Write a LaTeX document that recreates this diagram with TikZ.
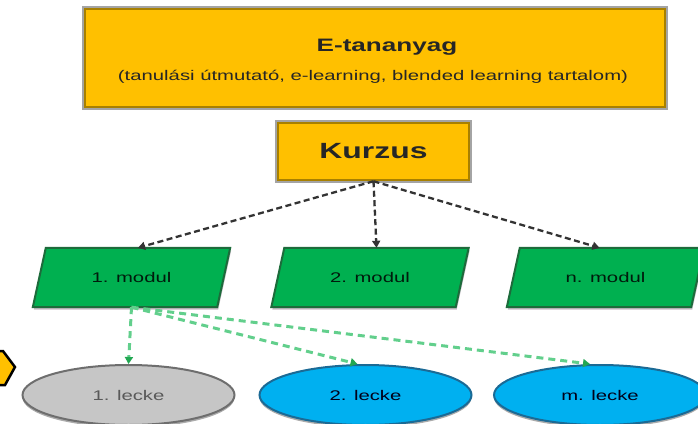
\documentclass[tikz,border=0pt]{standalone}
\usepackage{fontspec}
\usepackage{graphicx}
\setmainfont{Liberation Sans}
\usetikzlibrary{arrows.meta,shapes.geometric,shadows}
\definecolor{gold}{HTML}{FFC000}
\definecolor{golddark}{HTML}{A88000}
\definecolor{boxgray}{HTML}{A4A4A4}
\definecolor{modgreen}{HTML}{00B050}
\definecolor{modgreendark}{HTML}{1D6B3B}
\definecolor{modshadow}{HTML}{C4BCC4}
\definecolor{lgreen}{HTML}{62CF8C}
\definecolor{lgreendark}{HTML}{22A752}
\definecolor{lgray}{HTML}{C6C6C6}
\definecolor{lgraydark}{HTML}{6E6E6E}
\definecolor{lblue}{HTML}{00B0F0}
\definecolor{lbluedark}{HTML}{1B6A95}
\definecolor{txtdark}{HTML}{262626}
\newcommand{\hs}[1]{\scalebox{1.45}[1]{#1}}
\begin{document}
\begin{tikzpicture}[x=1pt,y=-1pt,
  goldbox/.style={draw=golddark, line width=2.5pt, fill=gold,
    preaction={draw=boxgray, line width=5.5pt}, inner sep=0pt},
  lbl/.style={inner sep=0pt, anchor=base, text=txtdark},
  modbox/.style={inner sep=0pt, minimum width=184pt, minimum height=59pt,
    font=\fontsize{14}{16}\selectfont, text=black!85!modgreen},
  modshape/.style={draw=modgreendark, line width=2pt, fill=modgreen},
  lecke/.style={ellipse, line width=2pt, inner sep=0pt,
    minimum width=212pt, minimum height=60pt, font=\fontsize{14}{16}\selectfont,
    drop shadow={shadow xshift=0pt, shadow yshift=-2.5pt, opacity=0.55, fill=black!60}},
  blackarrow/.style={draw=black!80, line width=2.3pt, dash pattern=on 6pt off 3.5pt,
    -{Triangle[length=7pt,width=8pt]}},
  greenarrow/.style={draw=lgreen, line width=3pt, dash pattern=on 7pt off 5pt,
    -{Triangle[length=7pt,width=8pt,color=lgreendark]}}
  ]
\useasboundingbox (0,0) rectangle (698,423);
\clip (0,0) rectangle (698,423);

% top box
\node[goldbox, minimum width=580pt, minimum height=98pt] (e) at (375,58) {};
\node[lbl, font=\fontsize{18}{20}\selectfont\bfseries] (et1) at (387,51) {\hs{E-tananyag}};
\node[lbl, font=\fontsize{14}{16}\selectfont] (et2) at (373,80) {\hs{(tanulási útmutató, e-learning, blended learning tartalom)}};

% course box
\node[goldbox, minimum width=191pt, minimum height=57pt, font=\fontsize{22}{24}\selectfont\bfseries, text=txtdark] (k) at (373.5,151.5) {\hs{Kurzus}};

% modules
\node[modbox] (m1) at (131.5,277.5) {};
\node[modbox] (m2) at (370,277.5) {};
\node[modbox] (m3) at (605.5,277.5) {};
\foreach \m in {m1,m2,m3}{
  \fill[modshadow] ([xshift=7.5pt,yshift=-2.5pt]\m.north west) -- ([xshift=7.5pt,yshift=-2.5pt]\m.north east)
    -- ([xshift=-5.5pt,yshift=-2.5pt]\m.south east) -- ([xshift=-5.5pt,yshift=-2.5pt]\m.south west) -- cycle;
  \draw[modshape] ([xshift=6.5pt]\m.north west) -- ([xshift=6.5pt]\m.north east)
    -- ([xshift=-6.5pt]\m.south east) -- ([xshift=-6.5pt]\m.south west) -- cycle;
}
\node[modbox] at (m1) {\hs{1. modul}};
\node[modbox] at (m2) {\hs{2. modul}};
\node[modbox] at (m3) {\hs{n. modul}};

% lessons
\node[lecke, draw=lgraydark, fill=lgray, text=black!65] (l1) at (128.5,395) {\hs{1. lecke}};
\node[lecke, draw=lbluedark, fill=lblue, text=black!75!blue!40!black] (l2) at (365.5,395) {\hs{2. lecke}};
\node[lecke, draw=lbluedark, fill=lblue, text=black!75!blue!40!black] (l3) at (600,395) {\hs{m. lecke}};

% yellow fragment at left edge
\draw[line width=2.5pt, fill=gold, line join=miter] (-10,351) -- (3,351) -- (15,367) -- (5,385) -- (-10,385) -- cycle;

% black dashed arrows
\draw[blackarrow] (k.south) -- ([xshift=6.5pt]m1.north);
\draw[blackarrow] (k.south) -- ([xshift=6.5pt]m2.north);
\draw[blackarrow] (k.south) -- ([xshift=-6pt]m3.north);

% green dashed arrows
\draw[greenarrow] (m1.south) -- (l1.north);
\draw[greenarrow] (m1.south) -- ([xshift=-8pt]l2.north);
\draw[greenarrow] (m1.south) -- ([xshift=-10pt]l3.north);
\end{tikzpicture}
\end{document}
